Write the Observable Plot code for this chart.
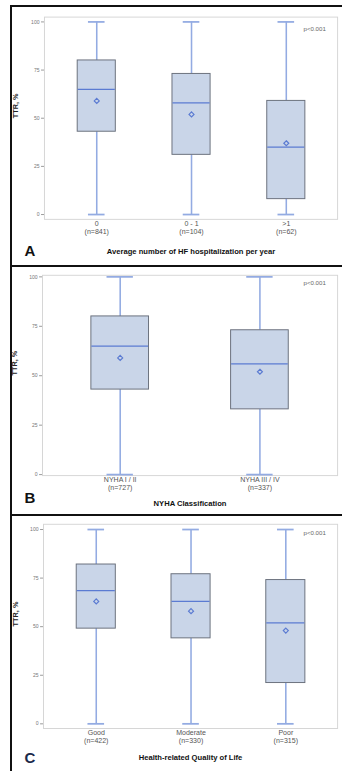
<!DOCTYPE html>
<html>
<head>
<meta charset="utf-8">
<script src="https://cdn.jsdelivr.net/npm/d3@7"></script>
<script src="https://cdn.jsdelivr.net/npm/@observablehq/plot@0.6"></script>
<style>
  html, body { margin: 0; padding: 0; background: #fff; overflow: hidden; width: 342px; height: 771px; }
  .panel-svg { position: absolute; left: 0; }
  .border { position: absolute; border: 2px solid #111; box-sizing: border-box; pointer-events: none; }
  .letter { position: absolute; font-family: "Liberation Sans", Arial, sans-serif; font-weight: bold; font-size: 15px; transform: translate(-50%, -50%); }
</style>
</head>
<body>
<div id="root"></div>
<script>
// ---- Data ----
const pText = "p<0.001";
const yTicks = [0, 25, 50, 75, 100];

// Panel A
const catsA = ["0", "0 - 1", ">1"];
const nA = ["841", "104", "62"];
const minA = [0, 0, 0];
const q1A = [43, 31, 8];
const medA = [65, 58, 35];
const q3A = [80, 73, 59];
const maxA = [100, 100, 100];
const meanA = [59, 52, 37];
const titleA = "Average number of HF hospitalization per year";

// Panel B
const catsB = ["NYHA I / II", "NYHA III / IV"];
const nB = ["727", "337"];
const minB = [0, 0];
const q1B = [43, 33];
const medB = [65, 56];
const q3B = [80, 73];
const maxB = [100, 100];
const meanB = [59, 52];
const titleB = "NYHA Classification";

// Panel C
const catsC = ["Good", "Moderate", "Poor"];
const nC = ["422", "330", "315"];
const minC = [0, 0, 0];
const q1C = [49, 44, 21];
const medC = [68.5, 63, 52];
const q3C = [82, 77, 74];
const maxC = [100, 100, 100];
const meanC = [63, 58, 48];
const titleC = "Health-related Quality of Life";

const FONT = "'Liberation Sans', Arial, Helvetica, sans-serif";
const WHISK = "#93abe2";
const BLUE = "#5b7bd2";
const BOXFILL = "#c9d5e8";
const BOXSTROKE = "#6a707c";

function panel(cfg) {
  const rows = cfg.cats.map((c, i) => ({
    cat: c, n: cfg.n[i], min: cfg.min[i], q1: cfg.q1[i], med: cfg.med[i],
    q3: cfg.q3[i], max: cfg.max[i], mean: cfg.mean[i]
  }));
  const nOf = new Map(rows.map(r => [r.cat, r.n]));
  return Plot.plot({
    width: 350,
    height: cfg.height,
    marginTop: cfg.marginTop,
    marginBottom: cfg.marginBottom,
    marginLeft: cfg.marginLeft,
    marginRight: 5,
    style: { fontFamily: FONT, background: "transparent", overflow: "visible" },
    x: { domain: cfg.cats, paddingInner: cfg.padIn, paddingOuter: cfg.padOut },
    y: { domain: cfg.ydomain },
    marks: [
      Plot.frame({ stroke: "#d6d6d6", strokeWidth: 1 }),
      Plot.axisY({ ticks: yTicks, tickSize: 3, tickPadding: 2, fontSize: 5.2, stroke: "#999", color: "#777", label: null }),
      Plot.axisX({ tickSize: 0, tickPadding: 1, fontSize: 7.2, color: "#555", lineHeight: 1.1, label: null,
        tickFormat: d => `${d}\n(n=${nOf.get(d)})` }),
      // whiskers
      Plot.ruleX(rows, { x: "cat", y1: "min", y2: "q1", stroke: WHISK, strokeWidth: 1.6 }),
      Plot.ruleX(rows, { x: "cat", y1: "q3", y2: "max", stroke: WHISK, strokeWidth: 1.6 }),
      Plot.tickY(rows, { x: "cat", y: "min", stroke: WHISK, strokeWidth: 1.8, inset: cfg.capInset }),
      Plot.tickY(rows, { x: "cat", y: "max", stroke: WHISK, strokeWidth: 1.8, inset: cfg.capInset }),
      // box
      Plot.barY(rows, { x: "cat", y1: "q1", y2: "q3", fill: BOXFILL, stroke: BOXSTROKE, strokeWidth: 1 }),
      Plot.tickY(rows, { x: "cat", y: "med", stroke: BLUE, strokeWidth: 1.3, inset: 0.5 }),
      Plot.dot(rows, { x: "cat", y: "mean", symbol: "diamond2", r: 2.3, stroke: BLUE, strokeWidth: 1.2, fill: "none" }),
      // texts
      Plot.text([pText], { text: d => d, frameAnchor: "top-right", textAnchor: "end", lineAnchor: "middle",
        dx: -12, dy: cfg.pDy, fontSize: 6.3, fill: "#666" }),
      Plot.text([cfg.title], { text: d => d, frameAnchor: "bottom", lineAnchor: "middle",
        dy: cfg.titleDy, fontSize: 7.8, fontWeight: "bold", fill: "#111" }),
      Plot.text(["TTR, %"], { text: d => d, frameAnchor: "left", rotate: -90, lineAnchor: "middle",
        dx: -29, fontSize: 7.5, fontWeight: "bold", fill: "#222" })
    ]
  });
}

const root = document.getElementById("root");
const panels = [
  { top: 0, height: 266, marginTop: 17, marginBottom: 42, marginLeft: 45, ydomain: [-2.5, 102.5],
    cats: catsA, n: nA, min: minA, q1: q1A, med: medA, q3: q3A, max: maxA, mean: meanA,
    padIn: 0.598, padOut: 0.345, capInset: 11, pDy: 12, titleDy: 33, title: titleA,
    border: { top: 5, height: 262 }, letter: { t: "A", x: 30, y: 250, color: "#111" } },
  { top: 266, height: 249, marginTop: 9, marginBottom: 35, marginLeft: 43, ydomain: [-0.5, 100.8],
    cats: catsB, n: nB, min: minB, q1: q1B, med: medB, q3: q3B, max: maxB, mean: meanB,
    padIn: 0.59, padOut: 0.345, capInset: 16, pDy: 8, titleDy: 29, title: titleB,
    border: { top: 265, height: 251 }, letter: { t: "B", x: 30, y: 497, color: "#111" } },
  { top: 515, height: 256, marginTop: 9, marginBottom: 38, marginLeft: 44, ydomain: [-2.4, 102.7],
    cats: catsC, n: nC, min: minC, q1: q1C, med: medC, q3: q3C, max: maxC, mean: meanC,
    padIn: 0.59, padOut: 0.338, capInset: 11.5, pDy: 9, titleDy: 30, title: titleC,
    border: { top: 514, height: 270 }, letter: { t: "C", x: 30, y: 757, color: "#1b2a4a" } }
];

for (const cfg of panels) {
  const svg = panel(cfg);
  svg.classList.add("panel-svg");
  svg.style.top = cfg.top + "px";
  svg.style.position = "absolute";
  svg.style.left = "0px";
  root.appendChild(svg);
  const b = document.createElement("div");
  b.className = "border";
  b.style.left = "10px";
  b.style.top = cfg.border.top + "px";
  b.style.width = "345px";
  b.style.height = cfg.border.height + "px";
  root.appendChild(b);
  const l = document.createElement("div");
  l.className = "letter";
  l.textContent = cfg.letter.t;
  l.style.left = cfg.letter.x + "px";
  l.style.top = cfg.letter.y + "px";
  l.style.color = cfg.letter.color;
  root.appendChild(l);
}
</script>
</body>
</html>
